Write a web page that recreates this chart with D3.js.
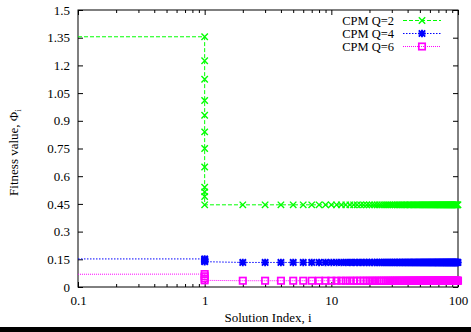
<!DOCTYPE html>
<html>
<head>
<meta charset="utf-8">
<script src="https://cdn.jsdelivr.net/npm/d3@7"></script>
<style>
  html, body { margin: 0; padding: 0; background: #fff; }
  svg { display: block; }
  text { font-family: "Liberation Serif", "Times New Roman", serif; fill: #000; }
</style>
</head>
<body>
<svg id="chart" width="471" height="332"></svg>
<script>
// Fitness values per solution index for the three CPM orders.
// Each run starts at its initial fitness, then drops through several
// candidates evaluated at index 1 before settling on a plateau.
const seriesNames = ["CPM Q=2", "CPM Q=4", "CPM Q=6"];

const startIndex = 0.1;
const firstIndex = 1;
const tailIndex = d3.range(2, 101);          // solution indices 2..100

const q2Start = 1.355;
const q2AtFirst = [1.355, 1.225, 1.125, 1.01, 0.93, 0.84, 0.75, 0.65, 0.54, 0.515, 0.49, 0.445];
const q2Plateau = 0.445;

const q4Start = 0.152;
const q4AtFirst = [0.152, 0.147, 0.142, 0.137];
const q4Plateau = 0.133;

const q6Start = 0.069;
const q6AtFirst = [0.07, 0.058, 0.046, 0.036];
const q6Plateau = 0.034;

const xTickValues = [0.1, 1, 10, 100];
const yTickValues = [0, 0.15, 0.3, 0.45, 0.6, 0.75, 0.9, 1.05, 1.2, 1.35, 1.5];

function buildSeries(start, atFirst, plateau) {
  const line = [{ i: startIndex, v: start }]
    .concat(atFirst.map(v => ({ i: firstIndex, v })))
    .concat(tailIndex.map(i => ({ i, v: plateau })));
  const points = atFirst.map(v => ({ i: firstIndex, v }))
    .concat(tailIndex.map(i => ({ i, v: plateau })));
  return { line, points };
}

const series = [
  Object.assign({ name: seriesNames[0], color: "#00ff00", dash: "4,2", marker: "cross" }, buildSeries(q2Start, q2AtFirst, q2Plateau)),
  Object.assign({ name: seriesNames[1], color: "#0000ff", dash: "1.5,1.5", marker: "star" }, buildSeries(q4Start, q4AtFirst, q4Plateau)),
  Object.assign({ name: seriesNames[2], color: "#ff00ff", dash: "1,1", marker: "square" }, buildSeries(q6Start, q6AtFirst, q6Plateau))
];

const W = 471, H = 332;
const margin = { top: 10, right: 13, bottom: 45, left: 78 };
const iw = W - margin.left - margin.right;
const ih = H - margin.top - margin.bottom;

const svg = d3.select("#chart");
const g = svg.append("g").attr("transform", `translate(${margin.left},${margin.top})`);

const x = d3.scaleLog().domain([0.1, 100]).range([0, iw]);
const y = d3.scaleLinear().domain([0, 1.5]).range([ih, 0]);

const minorX = [];
[0.1, 1, 10].forEach(d => { for (let k = 2; k <= 9; k++) minorX.push(d * k); });

const fmtY = d => String(+d.toFixed(2));
const fmtX = d => String(d);

// Ticks point inward on all four sides
const bottomAxis = d3.axisBottom(x).tickValues(xTickValues).tickFormat(fmtX).tickSize(-5).tickPadding(9);
const topAxis = d3.axisTop(x).tickValues(xTickValues).tickFormat("").tickSize(-5);
const bottomMinor = d3.axisBottom(x).tickValues(minorX).tickFormat("").tickSize(-3);
const topMinor = d3.axisTop(x).tickValues(minorX).tickFormat("").tickSize(-3);
const leftAxis = d3.axisLeft(y).tickValues(yTickValues).tickFormat(fmtY).tickSize(-5).tickPadding(8);
const rightAxis = d3.axisRight(y).tickValues(yTickValues).tickFormat("").tickSize(-5);

function styleAxis(sel) {
  sel.select(".domain").remove();
  sel.selectAll("line").attr("stroke", "#000").attr("stroke-width", 1);
  sel.selectAll("text").style("font-size", "13px").style("font-family", '"Liberation Serif", serif');
}

g.append("g").attr("transform", `translate(0,${ih})`).call(bottomAxis).call(styleAxis);
g.append("g").attr("transform", `translate(0,${ih})`).call(bottomMinor).call(styleAxis);
g.append("g").call(topAxis).call(styleAxis);
g.append("g").call(topMinor).call(styleAxis);
g.append("g").call(leftAxis).call(styleAxis);
g.append("g").attr("transform", `translate(${iw},0)`).call(rightAxis).call(styleAxis);

// Plot frame
g.append("rect").attr("x", 0).attr("y", 0).attr("width", iw).attr("height", ih)
  .attr("fill", "none").attr("stroke", "#000").attr("stroke-width", 1);

const clip = svg.append("defs").append("clipPath").attr("id", "plotclip");
clip.append("rect").attr("x", -1).attr("y", -6).attr("width", iw + 6).attr("height", ih + 12);

const plot = g.append("g").attr("clip-path", "url(#plotclip)");

const lineGen = d3.line().x(d => x(d.i)).y(d => y(d.v));

function drawMarker(sel, type, color) {
  const s = 3.2;
  if (type === "cross") {
    sel.append("path").attr("d", `M${-s},${-s}L${s},${s}M${-s},${s}L${s},${-s}`)
      .attr("stroke", color).attr("stroke-width", 1.4).attr("fill", "none");
  } else if (type === "star") {
    sel.append("path").attr("d", `M${-s},${-s}L${s},${s}M${-s},${s}L${s},${-s}M${-s - 0.5},0L${s + 0.5},0M0,${-s - 0.5}L0,${s + 0.5}`)
      .attr("stroke", color).attr("stroke-width", 1.9).attr("fill", "none");
  } else {
    sel.append("rect").attr("x", -s).attr("y", -s).attr("width", 2 * s).attr("height", 2 * s)
      .attr("stroke", color).attr("stroke-width", 1.7).attr("fill", "none");
  }
}

series.forEach(sr => {
  plot.append("path").datum(sr.line)
    .attr("d", lineGen)
    .attr("fill", "none")
    .attr("stroke", sr.color)
    .attr("stroke-width", 1)
    .attr("stroke-dasharray", sr.dash);
  plot.append("g").selectAll("g").data(sr.points).join("g")
    .attr("transform", d => `translate(${x(d.i)},${y(d.v)})`)
    .each(function () { drawMarker(d3.select(this), sr.marker, sr.color); });
});

// Legend
const legend = g.append("g");
series.forEach((sr, k) => {
  const ly = 10.5 + k * 13;
  legend.append("text").attr("x", 316).attr("y", ly).attr("dy", "0.35em")
    .attr("text-anchor", "end").style("font-size", "12.5px").text(sr.name);
  legend.append("line").attr("x1", 325).attr("x2", 363).attr("y1", ly).attr("y2", ly)
    .attr("stroke", sr.color).attr("stroke-width", 1).attr("stroke-dasharray", sr.dash);
  const mg = legend.append("g").attr("transform", `translate(344,${ly})`);
  drawMarker(mg, sr.marker, sr.color);
});

// Axis titles
svg.append("text").attr("x", margin.left + iw / 2).attr("y", 322)
  .attr("text-anchor", "middle").style("font-size", "13px").text("Solution Index, i");

const yt = svg.append("text")
  .attr("transform", `translate(18,${margin.top + ih / 2 + 4}) rotate(-90)`)
  .attr("text-anchor", "middle").style("font-size", "13px");
yt.append("tspan").text("Fitness value, Φ");
yt.append("tspan").attr("dy", 3).style("font-size", "9px").text("i");

// Bottom rule across the page
svg.append("rect").attr("x", 0).attr("y", 327).attr("width", W).attr("height", 5).attr("fill", "#000");
</script>
</body>
</html>
